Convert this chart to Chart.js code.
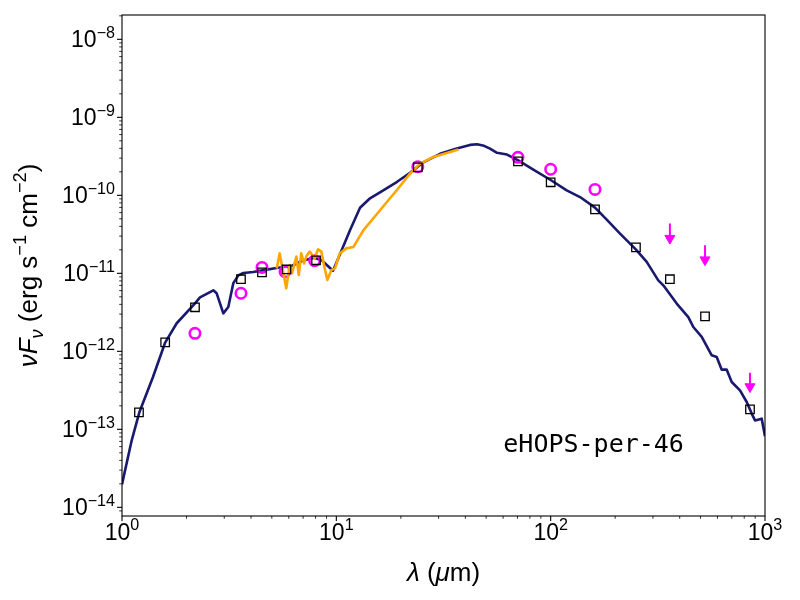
<!DOCTYPE html>
<html>
<head>
<meta charset="utf-8">
<script src="https://cdn.jsdelivr.net/npm/chart.js@4/dist/chart.umd.min.js"></script>
<style>
html,body{margin:0;padding:0;background:#fff;}
#wrap{width:800px;height:600px;}
</style>
</head>
<body>
<div id="wrap"><canvas id="c" width="800" height="600"></canvas></div>
<script>
// ---- data ----
const modelWl = [1.00,1.110,1.204,1.395,1.587,1.800,2.191,2.312,2.574,2.667,2.765,2.970,3.133,3.306,3.489,3.681,4.100,4.515,5.345,6.213,6.893,7.866,8.548,9.049,9.649,10.40,11.58,12.90,14.36,16.56,19.13,22.07,25.46,30.46,36.44,42.04,45.33,48.87,52.12,56.18,62.56,70.6,83.0,100.4,118.8,137.1,161.0,182.6,210.7,250.2,280.6,317.8,335.4,387.3,438.7,463.0,506.7,564.1,595.2,628.1,662.8,699.5,764.4,821.7,866.9,898.3,965.2,1000];
const modelFlux = [1.97e-14,7.23e-14,1.64e-13,4.69e-13,1.28e-12,2.29e-12,4.12e-12,4.92e-12,5.75e-12,6.05e-12,5.54e-12,3.07e-12,3.70e-12,7.45e-12,9.42e-12,1.01e-11,1.04e-11,1.09e-11,1.18e-11,1.25e-11,1.44e-11,1.58e-11,1.47e-11,1.27e-11,1.08e-11,1.75e-11,3.56e-11,6.92e-11,9.16e-11,1.16e-10,1.48e-10,1.94e-10,2.65e-10,3.40e-10,3.97e-10,4.43e-10,4.51e-10,4.31e-10,3.97e-10,3.51e-10,3.33e-10,2.81e-10,2.13e-10,1.56e-10,1.16e-10,9.50e-11,6.95e-11,4.88e-11,3.23e-11,2.01e-11,1.40e-11,8.13e-12,7.02e-12,4.09e-12,2.75e-12,2.05e-12,1.53e-12,8.89e-13,8.45e-13,5.82e-13,5.82e-13,4.04e-13,3.16e-13,2.24e-13,1.59e-13,1.30e-13,1.37e-13,8.13e-14];

const irsWl = [5.27,5.44,5.84,6.06,6.21,6.51,6.68,6.86,7.07,7.24,7.51,7.93,8.21,8.51,8.76,9.08,9.48,9.86,10.37,11.13,12.00,13.36,15.99,19.13,22.07,24.57,28.35,32.73,37.08];
const irsFlux = [1.15e-11,1.80e-11,6.42e-12,1.28e-11,1.00e-11,1.64e-11,9.51e-12,1.80e-11,1.34e-11,1.64e-11,1.90e-11,1.56e-11,2.03e-11,1.90e-11,1.27e-11,8.2e-12,1.10e-11,1.16e-11,1.80e-11,2.09e-11,2.17e-11,3.56e-11,6.43e-11,1.16e-10,1.90e-10,2.55e-10,3.10e-10,3.48e-10,3.86e-10];

const photWl = [1.20,1.59,2.19,3.59,4.50,5.85,8.04,24.0,70.4,100,161,250,360,525,851];
const photFlux = [1.65e-13,1.30e-12,3.67e-12,8.4e-12,1.03e-11,1.12e-11,1.47e-11,2.28e-10,2.73e-10,1.47e-10,6.62e-11,2.15e-11,8.4e-12,2.81e-12,1.80e-13];

const obsWl = [2.19,3.59,4.50,5.76,7.92,24.0,70.4,100,161];
const obsFlux = [1.70e-12,5.55e-12,1.19e-11,1.05e-11,1.45e-11,2.33e-10,3.07e-10,2.16e-10,1.19e-10];

const limWl = [360,525,851];
const limTop = [4.34e-11,2.29e-11,5.33e-13];
const limHead = [2.81e-11,1.49e-11,3.52e-13];

const xTickExps = [0,1,2,3];
const yTickExps = [-14,-13,-12,-11,-10,-9,-8];
const xRange = [1,1000];
const yRange = [7.74e-15,2.05e-8];
const sourceName = 'eHOPS-per-46';

// ---- helpers ----
function niceTicks(scale){
  scale.ticks = scale.ticks.filter(t => {
    const e = Math.floor(Math.log10(t.value) + 1e-9);
    const m = t.value / Math.pow(10, e);
    return Math.abs(m - Math.round(m)) < 1e-6 &&
      t.value >= scale.min * (1 - 1e-9) && t.value <= scale.max * (1 + 1e-9);
  });
}
const isPow10 = v => Math.abs(Math.log10(v) - Math.round(Math.log10(v))) < 1e-6;
const pts = (xs, ys) => xs.map((x, i) => ({x, y: ys[i]}));
const expText = e => String(e).replace('-', '−');

// draws mixed-size text; align: 'center' | 'right'
function drawRich(ctx, segs, size, fam, align){
  let total = 0;
  const parts = segs.map(s => {
    const fs = (s.sub || s.sup) ? size * 0.7 : size;
    const font = (s.it ? 'italic ' : '') + fs + 'px ' + fam;
    ctx.font = font;
    const w = ctx.measureText(s.t).width;
    total += w;
    return Object.assign({}, s, {font, w});
  });
  let x = align === 'right' ? -total : -total / 2;
  ctx.textBaseline = 'alphabetic';
  ctx.textAlign = 'left';
  parts.forEach(p => {
    ctx.font = p.font;
    const dy = p.sup ? -size * 0.42 : (p.sub ? size * 0.22 : 0);
    ctx.fillText(p.t, x, dy);
    x += p.w;
  });
}

const MAG = '#ff00ff';
const FAM = '"Liberation Sans", Arial, Helvetica, sans-serif';
const TICK_SIZE = 23;

const decor = {
  id: 'decor',
  afterDraw(chart){
    const ctx = chart.ctx, a = chart.chartArea;
    const xs = chart.scales.x, ys = chart.scales.y;
    ctx.save();
    ctx.strokeStyle = '#000';
    ctx.fillStyle = '#000';
    // frame
    ctx.lineWidth = 1.1;
    ctx.strokeRect(a.left, a.top, a.right - a.left, a.bottom - a.top);
    // tick marks
    xs.ticks.forEach(t => {
      const p = xs.getPixelForValue(t.value);
      const maj = isPow10(t.value);
      ctx.lineWidth = maj ? 1.1 : 0.8;
      ctx.beginPath(); ctx.moveTo(p, a.bottom); ctx.lineTo(p, a.bottom + (maj ? 5 : 2.8)); ctx.stroke();
    });
    ys.ticks.forEach(t => {
      const p = ys.getPixelForValue(t.value);
      const maj = isPow10(t.value);
      ctx.lineWidth = maj ? 1.1 : 0.8;
      ctx.beginPath(); ctx.moveTo(a.left, p); ctx.lineTo(a.left - (maj ? 5 : 2.8), p); ctx.stroke();
    });
    // tick labels (10^n)
    xTickExps.forEach(e => {
      const p = xs.getPixelForValue(Math.pow(10, e));
      ctx.save(); ctx.translate(p, a.bottom + 24);
      drawRich(ctx, [{t:'10'}, {t:expText(e), sup:true}], TICK_SIZE, FAM, 'center');
      ctx.restore();
    });
    yTickExps.forEach(e => {
      const p = ys.getPixelForValue(Math.pow(10, e));
      ctx.save(); ctx.translate(a.left - 7, p + 8);
      drawRich(ctx, [{t:'10'}, {t:expText(e), sup:true}], TICK_SIZE, FAM, 'right');
      ctx.restore();
    });
    // source label
    ctx.font = '25px "DejaVu Sans Mono", monospace';
    ctx.textAlign = 'left';
    ctx.textBaseline = 'alphabetic';
    ctx.fillText(sourceName, a.left + 0.593 * (a.right - a.left), a.bottom - 0.127 * (a.bottom - a.top));
    // y title
    ctx.save();
    ctx.translate(37, (a.top + a.bottom) / 2);
    ctx.rotate(-Math.PI / 2);
    drawRich(ctx, [
      {t:'ν', it:true}, {t:'F', it:true}, {t:'ν', it:true, sub:true},
      {t:' (erg s'}, {t:'−1', sup:true}, {t:' cm'}, {t:'−2', sup:true}, {t:')'}
    ], 26, FAM, 'center');
    ctx.restore();
    // x title
    ctx.save();
    ctx.translate((a.left + a.right) / 2, 581);
    drawRich(ctx, [{t:'λ', it:true}, {t:' ('}, {t:'μ', it:true}, {t:'m)'}], 26, FAM, 'center');
    ctx.restore();
    ctx.restore();
  }
};

new Chart(document.getElementById('c'), {
  type: 'scatter',
  data: {
    datasets: [
      { label:'photometry', data: pts(photWl, photFlux), showLine:false,
        pointStyle:'rect', pointRadius:6, pointHoverRadius:6,
        borderColor:'#000', borderWidth:1.3, backgroundColor:'rgba(0,0,0,0)', order:1 },
      ...limWl.map((x, i) => ({ label:'limit'+i, data:[{x, y:limTop[i]}, {x, y:limHead[i]}],
        showLine:true, borderColor:MAG, borderWidth:2, pointRadius:0, order:2 })),
      { label:'limit heads', data: pts(limWl, limHead), showLine:false,
        pointStyle:'triangle', rotation:180, pointRadius:5.8, pointHoverRadius:5.8,
        borderColor:MAG, borderWidth:1, backgroundColor:MAG, order:2 },
      { label:'IRS', data: pts(irsWl, irsFlux), showLine:true, borderColor:'#ffa500',
        borderWidth:2.6, pointRadius:0, borderJoinStyle:'round', order:3 },
      { label:'observed', data: pts(obsWl, obsFlux), showLine:false,
        pointStyle:'circle', pointRadius:5.2, pointHoverRadius:5.2,
        borderColor:MAG, borderWidth:2.6, backgroundColor:'rgba(0,0,0,0)', order:4 },
      { label:'model', data: pts(modelWl, modelFlux), showLine:true, borderColor:'#191970',
        borderWidth:2.6, pointRadius:0, borderJoinStyle:'round', order:5 }
    ]
  },
  options: {
    responsive:false, animation:false, devicePixelRatio:1, events:[],
    layout:{ padding:{ left:0, right:35, top:15, bottom:0 } },
    plugins:{ legend:{display:false}, tooltip:{enabled:false} },
    scales:{
      x:{ type:'logarithmic', min:xRange[0], max:xRange[1],
        grid:{display:false, drawTicks:false}, border:{display:false},
        afterBuildTicks: niceTicks,
        afterFit: s => { s.height = 84; },
        ticks:{ display:false } },
      y:{ type:'logarithmic', min:yRange[0], max:yRange[1],
        grid:{display:false, drawTicks:false}, border:{display:false},
        afterBuildTicks: niceTicks,
        afterFit: s => { s.width = 122; },
        ticks:{ display:false } }
    }
  },
  plugins:[decor]
});
</script>
</body>
</html>
